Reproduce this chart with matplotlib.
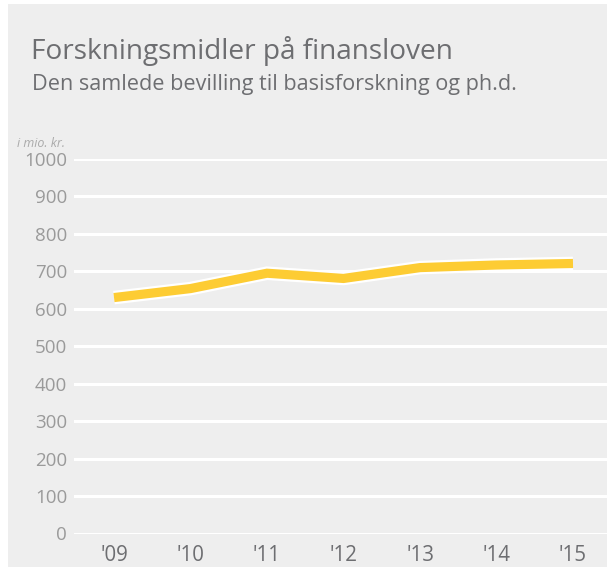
import matplotlib
matplotlib.use("Agg")
import matplotlib.pyplot as plt
from matplotlib.patches import Rectangle

years = ["'09", "'10", "'11", "'12", "'13", "'14", "'15"]
values = [630, 654, 695, 681, 710, 717, 721]
yticks = [0, 100, 200, 300, 400, 500, 600, 700, 800, 900, 1000]

title = "Forskningsmidler på finansloven"
subtitle = "Den samlede bevilling til basisforskning og ph.d."
unit = "i mio. kr."

plt.rcParams['font.family'] = ['Open Sans', 'DejaVu Sans']

W, H = 607, 567
fig = plt.figure(figsize=(W/100, H/100), dpi=100, facecolor='white')
fig.patches.append(Rectangle((8/W, 0), 1 - 8/W, 1 - 4/H, transform=fig.transFigure,
                             facecolor='#eeeeee', edgecolor='none', zorder=-10))

bottom = 1 - 533.5/H
top = 1 - 159/H
left = 74/W
ax = fig.add_axes([left, bottom, 1 - left, top - bottom])
ax.set_zorder(5)
ax.set_facecolor('none')
x = list(range(len(years)))
step = (573 - 114) / 6
ax.set_xlim(-(114 - 74)/step, 6 + (607 - 573)/step)
ax.set_ylim(0, 1000)
ax.set_yticks(yticks)
ax.set_xticks(x)
ax.set_xticklabels(years)
ax.grid(axis='y', color='white', linewidth=2.2)
ax.grid(axis='x', visible=False)
ax.set_axisbelow(True)
for s in ax.spines.values():
    s.set_visible(False)
ax.tick_params(axis='y', length=0, pad=5, labelsize=13.5, labelcolor='#9a9a9a')
ax.tick_params(axis='x', length=0, pad=8, labelsize=14.8, labelcolor='#6d6e71')
for lab in ax.get_yticklabels():
    lab.set_verticalalignment('center_baseline')

ax.plot(x, values, color='white', linewidth=9.8, solid_capstyle='butt',
        solid_joinstyle='miter', clip_on=False, zorder=3)
ax.plot(x, values, color='#fdcc33', linewidth=6.6, solid_capstyle='butt',
        solid_joinstyle='miter', clip_on=False, zorder=4)

fig.text(31/W, 1 - 59/H, title, fontsize=20.2, color='#6d6e71', va='baseline', ha='left')
fig.text(32/W, 1 - 90/H, subtitle, fontsize=15.6, color='#6d6e71', va='baseline', ha='left')
fig.text(17/W, 1 - 147/H, unit, fontsize=9, color='#aaaaaa', style='italic', va='baseline', ha='left')

fig.savefig('out.png', dpi=100, facecolor='white')
